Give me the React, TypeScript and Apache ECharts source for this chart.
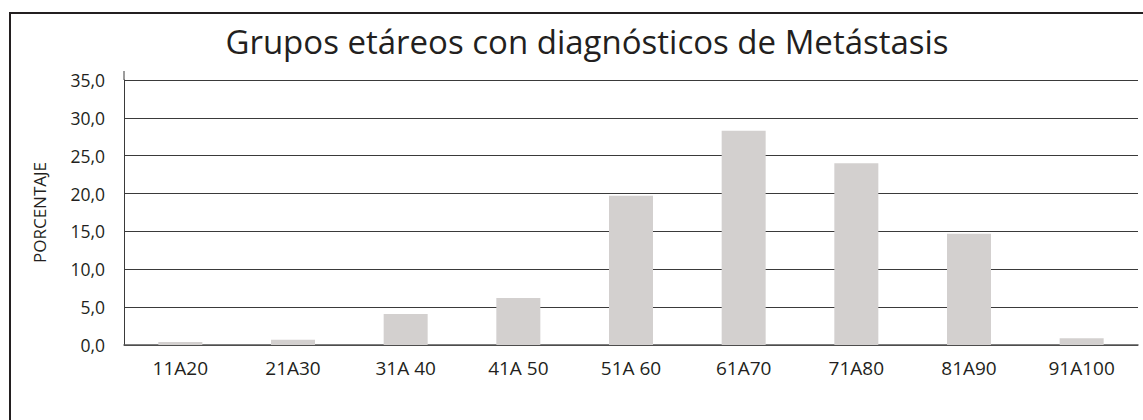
import React, { useEffect, useRef } from "react";
import * as echarts from "echarts";

const categories = ["11A20", "21A30", "31A 40", "41A 50", "51A 60", "61A70", "71A80", "81A90", "91A100"];
const values = [0.4, 0.7, 4.1, 6.2, 19.7, 28.3, 24.0, 14.7, 0.9];
const titleText = "Grupos etáreos con diagnósticos de Metástasis";
const yAxisName = "PORCENTAJE";

const FONT = "'Open Sans', 'Noto Sans', sans-serif";
const INK = "#231f20";

export default function App() {
  const ref = useRef<HTMLDivElement>(null);
  useEffect(() => {
    if (!ref.current) return;
    const chart = echarts.init(ref.current, undefined, { renderer: "svg" });
    chart.setOption({
      animation: false,
      backgroundColor: "#ffffff",
      textStyle: { fontFamily: FONT },
      title: {
        text: titleText,
        left: 582,
        top: 20,
        textAlign: "center",
        textStyle: { fontFamily: FONT, fontSize: 33, fontWeight: "normal", color: INK },
      },
      graphic: [
        {
          type: "rect",
          shape: { x: 10, y: 13, width: 1300, height: 600 },
          style: { fill: "none", stroke: INK, lineWidth: 2 },
          silent: true,
        },
        {
          type: "line",
          shape: { x1: 124, y1: 71, x2: 124, y2: 80 },
          style: { stroke: "#3a3a3a", lineWidth: 1 },
          silent: true,
        },
      ],
      grid: { left: 124, right: 5, top: 80, bottom: 75, containLabel: false },
      xAxis: {
        type: "category",
        data: categories,
        axisLine: { show: true, lineStyle: { color: "#555555", width: 1.5 } },
        axisTick: { show: false },
        axisLabel: { color: INK, fontSize: 19, margin: 13, fontFamily: FONT },
      },
      yAxis: {
        type: "value",
        min: 0,
        max: 35,
        interval: 5,
        name: yAxisName,
        nameLocation: "middle",
        nameRotate: 90,
        nameGap: 76,
        nameTextStyle: { color: INK, fontSize: 17, fontFamily: FONT },
        axisLine: { show: true, lineStyle: { color: "#3a3a3a", width: 1 } },
        axisTick: { show: false },
        axisLabel: {
          color: INK,
          fontSize: 17.5,
          margin: 19,
          fontFamily: FONT,
          formatter: (v: number) => v.toFixed(1).replace(".", ","),
        },
        splitLine: { show: true, lineStyle: { color: "#3a3a3a", width: 1 } },
      },
      series: [
        {
          type: "bar",
          data: values,
          barWidth: 44,
          itemStyle: { color: "#d3d0cf" },
        },
      ],
    });
    return () => chart.dispose();
  }, []);
  return (
    <div
      ref={ref}
      style={{ position: "fixed", left: 0, top: 0, width: 1143, height: 420, background: "#fff" }}
    />
  );
}
